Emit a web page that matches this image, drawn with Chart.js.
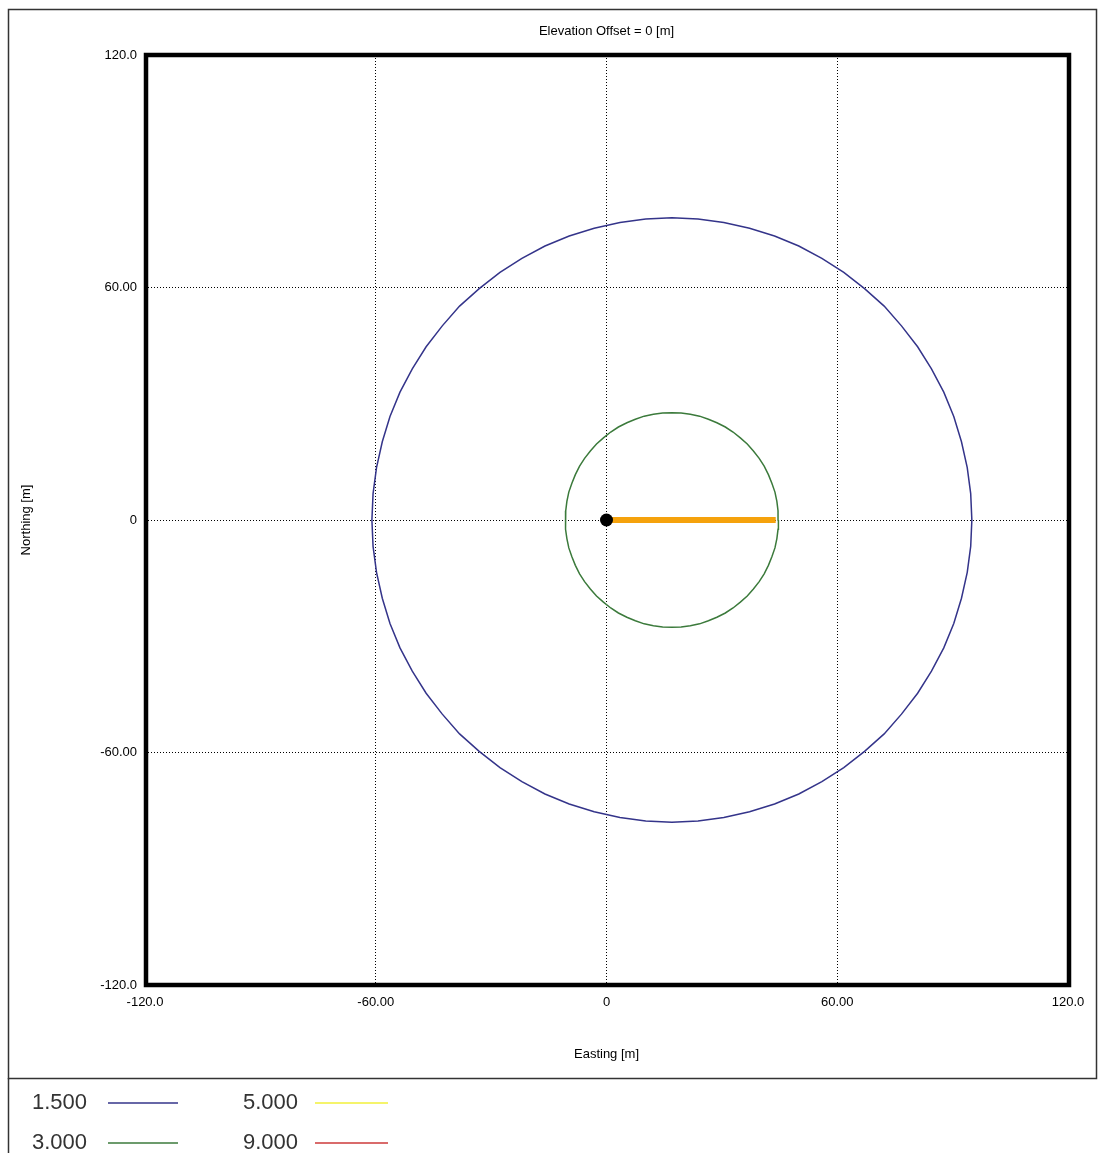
<!DOCTYPE html>
<html>
<head>
<meta charset="utf-8">
<style>
  html, body { margin: 0; padding: 0; background: #fff; }
  #wrap { width: 1103px; height: 1153px; }
</style>
<script src="https://cdn.jsdelivr.net/npm/chart.js@4"></script>
</head>
<body>
<div id="wrap"><canvas id="c" width="1103" height="1153"></canvas></div>
<script>
// ---- data ----
const chartTitle = 'Elevation Offset = 0 [m]';
const xAxisTitle = 'Easting [m]';
const yAxisTitle = 'Northing [m]';
const tickValues = [-120, -60, 0, 60, 120];
const xTickLabels = ['-120.0', '-60.00', '0', '60.00', '120.0'];
const yTickLabels = ['-120.0', '-60.00', '0', '60.00', '120.0'];

const contourLevels = ['1.500', '3.000', '5.000', '9.000'];
const contourColors = ['#34348a', '#3b7a3b', '#f2f03a', '#cc3a3a'];

// 1.500 contour
const blueEasting = [95.0, 94.7, 93.8, 92.3, 90.3, 87.7, 84.5, 80.9, 76.7, 72.2, 67.1, 61.7,
  56.0, 50.0, 43.7, 37.2, 30.5, 23.8, 17.0, 10.2, 3.5, -3.2, -9.7, -16.0, -22.0, -27.7,
  -33.1, -38.2, -42.7, -46.9, -50.5, -53.7, -56.3, -58.3, -59.8, -60.7, -61.0,
  -60.7, -59.8, -58.3, -56.3, -53.7, -50.5, -46.9, -42.7, -38.2, -33.1, -27.7, -22.0,
  -16.0, -9.7, -3.2, 3.5, 10.2, 17.0, 23.8, 30.5, 37.2, 43.7, 50.0, 56.0, 61.7, 67.1,
  72.2, 76.7, 80.9, 84.5, 87.7, 90.3, 92.3, 93.8, 94.7, 95.0];
const blueNorthing = [0, 6.8, 13.5, 20.2, 26.7, 33.0, 39.0, 44.7, 50.1, 55.2, 59.7, 63.9,
  67.5, 70.7, 73.3, 75.3, 76.8, 77.7, 78.0, 77.7, 76.8, 75.3, 73.3, 70.7, 67.5, 63.9,
  59.7, 55.2, 50.1, 44.7, 39.0, 33.0, 26.7, 20.2, 13.5, 6.8, 0,
  -6.8, -13.5, -20.2, -26.7, -33.0, -39.0, -44.7, -50.1, -55.2, -59.7, -63.9, -67.5,
  -70.7, -73.3, -75.3, -76.8, -77.7, -78.0, -77.7, -76.8, -75.3, -73.3, -70.7, -67.5,
  -63.9, -59.7, -55.2, -50.1, -44.7, -39.0, -33.0, -26.7, -20.2, -13.5, -6.8, 0];

// 3.000 contour
const greenEasting = [44.7, 44.6, 44.3, 43.8, 43.0, 42.1, 41.0, 39.7, 38.2, 36.6, 34.8, 32.9,
  30.9, 28.7, 26.5, 24.2, 21.8, 19.4, 17.0, 14.6, 12.2, 9.8, 7.5, 5.3, 3.1, 1.1,
  -0.8, -2.6, -4.2, -5.7, -7.0, -8.1, -9.0, -9.8, -10.3, -10.6, -10.7,
  -10.6, -10.3, -9.8, -9.0, -8.1, -7.0, -5.7, -4.2, -2.6, -0.8, 1.1, 3.1, 5.3, 7.5,
  9.8, 12.2, 14.6, 17.0, 19.4, 21.8, 24.2, 26.5, 28.7, 30.9, 32.9, 34.8, 36.6, 38.2,
  39.7, 41.0, 42.1, 43.0, 43.8, 44.3, 44.6, 44.7];
const greenNorthing = [0, 2.4, 4.8, 7.2, 9.5, 11.7, 13.9, 15.9, 17.8, 19.6, 21.2, 22.7,
  24.0, 25.1, 26.0, 26.8, 27.3, 27.6, 27.7, 27.6, 27.3, 26.8, 26.0, 25.1, 24.0, 22.7,
  21.2, 19.6, 17.8, 15.9, 13.9, 11.7, 9.5, 7.2, 4.8, 2.4, 0,
  -2.4, -4.8, -7.2, -9.5, -11.7, -13.9, -15.9, -17.8, -19.6, -21.2, -22.7, -24.0,
  -25.1, -26.0, -26.8, -27.3, -27.6, -27.7, -27.6, -27.3, -26.8, -26.0, -25.1, -24.0,
  -22.7, -21.2, -19.6, -17.8, -15.9, -13.9, -11.7, -9.5, -7.2, -4.8, -2.4, 0];

// source release segment and source point
const releaseEasting = [0, 44];
const releaseNorthing = [0, 0];
const sourceEasting = [0];
const sourceNorthing = [0];

const toPts = (xs, ys) => xs.map((x, i) => ({ x: x, y: ys[i] }));

const FONT = '"Liberation Sans", Arial, sans-serif';

const framePlugin = {
  id: 'framePlugin',
  afterDraw(chart) {
    const ctx = chart.ctx;
    const a = chart.chartArea;
    ctx.save();
    // outer frame
    ctx.strokeStyle = '#333';
    ctx.lineWidth = 1.5;
    ctx.strokeRect(8.5, 9.5, 1088, 1069);
    ctx.beginPath();
    ctx.moveTo(8.5, 1078);
    ctx.lineTo(8.5, 1153);
    ctx.stroke();
    // thick plot frame
    ctx.strokeStyle = '#000';
    ctx.lineWidth = 4.5;
    ctx.strokeRect(a.left + 1, a.top, a.right - a.left, a.bottom - a.top);
    // title
    ctx.fillStyle = '#000';
    ctx.font = '13px ' + FONT;
    ctx.textAlign = 'center';
    ctx.textBaseline = 'middle';
    ctx.fillText(chartTitle, (a.left + a.right) / 2, 31);
    // legend
    ctx.font = '22px ' + FONT;
    ctx.textAlign = 'left';
    const cols = [{ tx: 32, l1: 108, l2: 178 }, { tx: 243, l1: 315, l2: 388 }];
    const rows = [1103, 1143];
    contourLevels.forEach((lvl, i) => {
      const c = cols[Math.floor(i / 2)];
      const y = rows[i % 2];
      ctx.fillStyle = '#333';
      ctx.fillText(lvl, c.tx, y);
      ctx.strokeStyle = contourColors[i];
      ctx.lineWidth = 1.5;
      ctx.beginPath();
      ctx.moveTo(c.l1, y);
      ctx.lineTo(c.l2, y);
      ctx.stroke();
    });
    ctx.restore();
  }
};

const axisCommon = {
  type: 'linear',
  min: -120,
  max: 120,
  afterBuildTicks(scale) { scale.ticks = tickValues.map(v => ({ value: v })); },
  grid: { color: '#000', lineWidth: 1, drawTicks: false },
  border: { display: false, dash: [1, 2] },
};

new Chart(document.getElementById('c'), {
  type: 'scatter',
  data: {
    datasets: [
      { label: contourLevels[0], data: toPts(blueEasting, blueNorthing), showLine: true,
        borderColor: contourColors[0], borderWidth: 1.5, pointRadius: 0, tension: 0, order: 3 },
      { label: contourLevels[1], data: toPts(greenEasting, greenNorthing), showLine: true,
        borderColor: contourColors[1], borderWidth: 1.5, pointRadius: 0, tension: 0, order: 2 },
      { label: contourLevels[2], data: [], showLine: true, borderColor: contourColors[2], pointRadius: 0 },
      { label: contourLevels[3], data: [], showLine: true, borderColor: contourColors[3], pointRadius: 0 },
      { label: 'release', data: toPts(releaseEasting, releaseNorthing), showLine: true,
        borderColor: '#f5a20c', borderWidth: 6, pointRadius: 0, borderCapStyle: 'butt', order: 1 },
      { label: 'source', data: toPts(sourceEasting, sourceNorthing), showLine: false,
        pointRadius: 6.5, pointBackgroundColor: '#000', pointBorderColor: '#000', pointBorderWidth: 0, order: 0 }
    ]
  },
  options: {
    responsive: false,
    devicePixelRatio: 1,
    animation: false,
    events: [],
    layout: { padding: { left: 8, top: 55, right: 35, bottom: 75 } },
    plugins: { legend: { display: false }, title: { display: false }, tooltip: { enabled: false } },
    scales: {
      x: Object.assign({}, axisCommon, {
        position: 'bottom',
        afterFit(scale) { scale.height = 93; },
        ticks: {
          padding: 10, color: '#000', font: { family: FONT, size: 13 }, maxRotation: 0, autoSkip: false,
          callback: (v) => xTickLabels[tickValues.indexOf(v)]
        },
        title: { display: true, text: xAxisTitle, color: '#000', font: { family: FONT, size: 13 },
          padding: { top: 0, bottom: 16 } }
      }),
      y: Object.assign({}, axisCommon, {
        position: 'left',
        afterFit(scale) { scale.width = 137; },
        ticks: {
          padding: 8, color: '#000', font: { family: FONT, size: 13 }, autoSkip: false,
          callback: (v) => yTickLabels[tickValues.indexOf(v)]
        },
        title: { display: true, text: yAxisTitle, color: '#000', font: { family: FONT, size: 13 },
          padding: { top: 11, bottom: 0 } }
      })
    }
  },
  plugins: [framePlugin]
});
</script>
</body>
</html>
